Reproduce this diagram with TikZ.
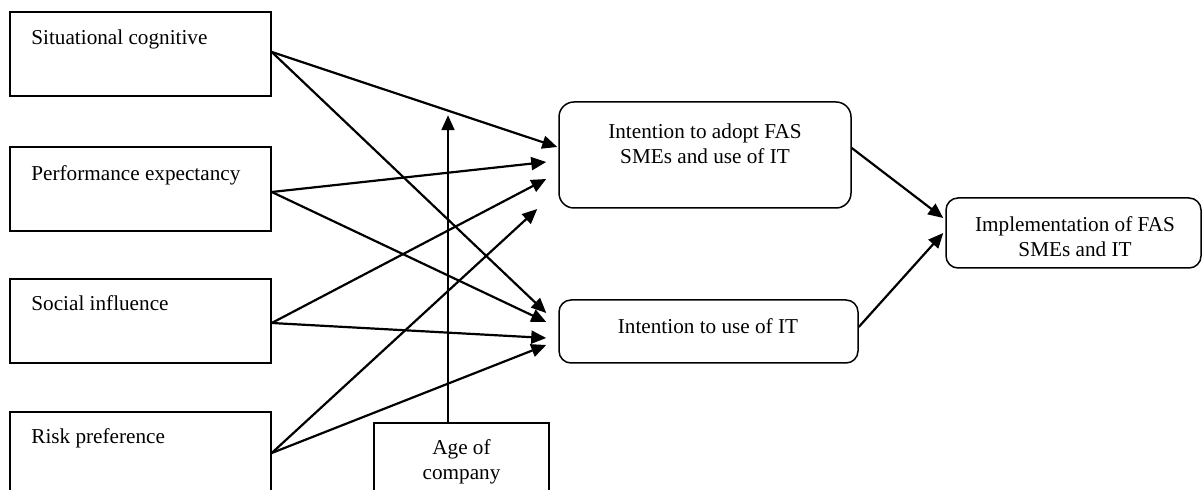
\documentclass[tikz,border=0pt]{standalone}
\usepackage{fontspec}
\setmainfont{Liberation Serif}
\usetikzlibrary{calc,arrows.meta}
\begin{document}
\begin{tikzpicture}[x=0.5pt,y=-0.5pt,
  box/.style={draw, line width=0.75pt, inner sep=0pt},
  rbox/.style={box, rounded corners=6pt},
  lbl/.style={font=\fontsize{10.6pt}{12.5pt}\selectfont, inner sep=0pt},
  arr/.style={line width=1.1pt, -{Triangle[length=7.5pt,width=6.5pt]}},
]
\useasboundingbox (0,0) rectangle (1202,490);
\clip (0,0) rectangle (1202,490);
\fill[white] (0,0) rectangle (1202,490);

% left factor boxes
\node[box, minimum width=130.5pt, minimum height=42pt] (sc) at (140.5,54) {};
\node[box, minimum width=130.5pt, minimum height=42pt] (pe) at (140.5,189) {};
\node[box, minimum width=130.5pt, minimum height=42pt] (si) at (140.5,321) {};
\node[box, minimum width=130.5pt, minimum height=42pt] (rp) at (140.5,454) {};
\node[lbl, anchor=base west] (sct) at (31,45) {Situational cognitive};
\node[lbl, anchor=base west] (pet) at (31,181) {Performance expectancy};
\node[lbl, anchor=base west] (sit) at (31,311) {Social influence};
\node[lbl, anchor=base west] (rpt) at (31,444) {Risk preference};

% moderator
\node[box, minimum width=87.5pt, minimum height=40pt] (age) at (461.5,463) {};
\node[lbl, align=center] (aget) at (461.5,462) {Age of\\company};

% intention boxes
\node[rbox, rounded corners=7.5pt, minimum width=146pt, minimum height=53pt] (adopt) at (705,155) {};
\node[lbl, align=center] (adoptt) at (705,144) {Intention to adopt FAS\\SMEs and use of IT};
\node[rbox, minimum width=149.5pt, minimum height=31.5pt] (use) at (708.5,331.5) {};
\node[lbl, anchor=base] (uset) at (708,334) {Intention to use of IT};

% outcome
\node[rbox, minimum width=127.5pt, minimum height=35pt] (impl) at (1073.5,233) {};
\node[lbl, align=center] (implt) at (1075,237) {Implementation of FAS\\SMEs and IT};

\coordinate (agetip) at ($(age.north)+(-13.5,-307)$);

% arrows to adopt
\draw[arr] ($(sc.east)+(0,-2)$) -- ($(adopt.west)+(-1,-8)$);
\draw[arr] ($(pe.east)+(0,3)$) -- ($(adopt.west)+(-12,7)$);
\draw[arr] ($(si.east)+(0,2)$) -- ($(adopt.west)+(-12,24)$);
\draw[arr] ($(rp.east)+(0,-1)$) -- ($(adopt.west)+(-21,54)$);
% arrows to use
\draw[arr] ($(sc.east)+(0,-2)$) -- ($(use.west)+(-12,-18.5)$);
\draw[arr] ($(pe.east)+(0,3)$) -- ($(use.west)+(-12,-9.5)$);
\draw[arr] ($(si.east)+(0,2)$) -- ($(use.west)+(-12,6.5)$);
\draw[arr] ($(rp.east)+(0,-1)$) -- ($(use.west)+(-12,13.5)$);
% moderator arrow
\draw[arr] ($(age.north)+(-13.5,0)$) -- (agetip);
% to implementation
\draw[arr] ($(adopt.east)+(0,-7)$) -- ($(impl.west)+(-2,-15)$);
\draw[arr] ($(use.east)+(0,-4.5)$) -- ($(impl.west)+(-2,0)$);
\end{tikzpicture}
\end{document}
